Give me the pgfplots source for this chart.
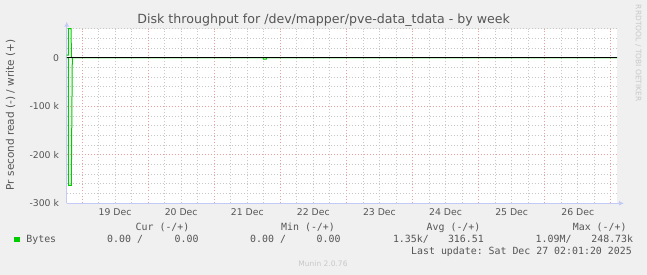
\documentclass[border=0pt]{standalone}
\usepackage{fontspec}
\setmainfont{DejaVu Sans}
\setmonofont{DejaVu Sans Mono}
\usepackage{pgfplots}
\pgfplotsset{compat=1.18}
\usetikzlibrary{arrows.meta}
\definecolor{bg}{HTML}{F0F0F0}
\definecolor{txt}{HTML}{555555}
\definecolor{mgrid}{HTML}{E8A0A0}
\definecolor{ngrid}{HTML}{C8C8C8}
\definecolor{axisc}{HTML}{C4CAF6}
\definecolor{munin}{HTML}{00CC00}
\definecolor{wm}{HTML}{C8C8C8}
\begin{document}
\begin{tikzpicture}[x=1pt,y=1pt]
\path[use as bounding box, fill=bg] (0,0) rectangle (647,275);
\begin{axis}[
  at={(66.7pt,71.7pt)}, anchor=south west,
  scale only axis, width=550.3pt, height=174.7pt,
  xmin=-0.2315, xmax=8.094, ymin=-300000, ymax=60000,
  axis background/.style={fill=white},
  axis lines=left,
  axis line style={draw=axisc, line width=1pt},
  x axis line style={-{Latex[length=5pt,width=5pt]}, shorten >=-7pt},
  y axis line style={-{Latex[length=5pt,width=5pt]}, shorten >=-7pt},
  clip=false,
  xtick={0,1,2,3,4,5,6,7,8}, xticklabels={},
  minor x tick num=3,
  ytick={-300000,-200000,-100000,0},
  yticklabels={-300 k,-200 k,-100 k,0},
  minor ytick={-280000,-260000,-240000,-220000,-180000,-160000,-140000,-120000,-80000,-60000,-40000,-20000,20000,40000,60000},
  grid=both,
  major grid style={draw=mgrid, dash pattern=on 1pt off 2pt, line width=0.8pt},
  minor grid style={draw=ngrid, dash pattern=on 1pt off 2pt, line width=0.8pt},
  major tick length=0pt, minor tick length=0pt,
  tick label style={font=\fontsize{9.3}{11}\selectfont, text=txt, inner sep=0pt},
  yticklabel style={anchor=east, xshift=-7.5pt},
  scaled y ticks=false,
  extra x ticks={0.5,1.5,2.5,3.5,4.5,5.5,6.5,7.5},
  extra x tick labels={19 Dec,20 Dec,21 Dec,22 Dec,23 Dec,24 Dec,25 Dec,26 Dec},
  extra x tick style={grid=none, xticklabel style={anchor=base, yshift=-12.4pt}},
]
% write (+)
\addplot[munin, line width=1pt] coordinates {
  (-0.2315,5500) (-0.2073,5500) (-0.2060,60000) (-0.1664,60000) (-0.1589,0) (8.094,0)
};
% read (-)
\addplot[munin, line width=1pt] coordinates {
  (-0.2315,0) (-0.2073,0) (-0.2042,-263000) (-0.1620,-263000) (-0.1467,0)
  (2.742,0) (2.745,-3000) (2.788,-3000) (2.791,0) (8.094,0)
};
% zero line
\addplot[black, line width=1pt] coordinates {(-0.2315,0) (8.094,0)};
\end{axis}
% title
\node[anchor=base, inner sep=0pt, text=txt, font=\fontsize{12.6}{15}\selectfont] at (323.7,251.7) {Disk throughput for /dev/mapper/pve-data\_tdata - by week};
% y label
\node[rotate=90, anchor=center, inner sep=0pt, text=txt, font=\fontsize{10.5}{12}\selectfont] at (10.5,160) {Pr second read (-) / write (+)};
% watermark
\node[rotate=-90, anchor=center, inner sep=0pt, text=wm, font=\fontsize{7.5}{9}\selectfont] at (638.3,221.7) {RRDTOOL / TOBI OETIKER};
\node[anchor=base, inner sep=0pt, text=wm, font=\fontsize{7.5}{9}\selectfont] at (323,8) {Munin 2.0.76};
% legend
\begin{scope}[every node/.style={anchor=base west, inner sep=0pt, text=txt, font=\ttfamily\fontsize{9.9}{12}\selectfont}]
\node at (135.5,44) {Cur (-/+)};
\node at (281,44) {Min (-/+)};
\node at (426.5,44) {Avg (-/+)};
\node at (572.7,44) {Max (-/+)};
\node at (26.2,32.3) {Bytes};
\node at (107,32.3) {0.00 /};
\node at (174.5,32.3) {0.00};
\node at (250,32.3) {0.00 /};
\node at (316.5,32.3) {0.00};
\node at (392.8,32.3) {1.35k/};
\node at (447.8,32.3) {316.51};
\node at (535.5,32.3) {1.09M/};
\node at (591.2,32.3) {248.73k};
\node at (411,20) {Last update: Sat Dec 27 02:01:20 2025};
\node[anchor=base west] at (14,32.8) {\textcolor{munin}{\rule{5.5pt}{5.5pt}}};
\end{scope}
\end{tikzpicture}
\end{document}
